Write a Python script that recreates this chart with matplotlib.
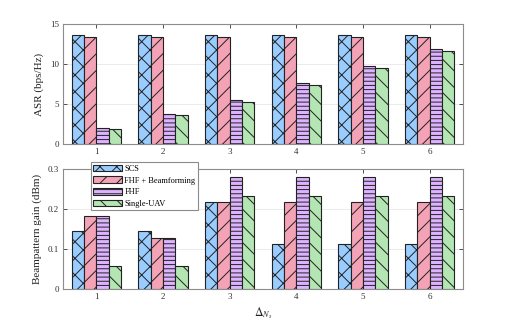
import matplotlib
matplotlib.use("Agg")
import matplotlib.pyplot as plt
import numpy as np

plt.rcParams['font.family'] = ['Liberation Serif', 'DejaVu Serif']
plt.rcParams['mathtext.fontset'] = 'stix'
plt.rcParams['hatch.linewidth'] = 0.7

categories = ['1', '2', '3', '4', '5', '6']
series_names = ['SCS', 'FHF + Beamforming', 'FHF', 'Single-UAV']

asr_scs = [13.65, 13.65, 13.65, 13.65, 13.65, 13.65]
asr_fhf_bf = [13.4, 13.4, 13.4, 13.4, 13.4, 13.4]
asr_fhf = [1.95, 3.8, 5.45, 7.6, 9.8, 11.9]
asr_single = [1.83, 3.6, 5.25, 7.4, 9.45, 11.6]

gain_scs = [0.1445, 0.1445, 0.218, 0.113, 0.113, 0.113]
gain_fhf_bf = [0.183, 0.128, 0.218, 0.218, 0.218, 0.218]
gain_fhf = [0.183, 0.128, 0.28, 0.28, 0.28, 0.28]
gain_single = [0.058, 0.057, 0.233, 0.233, 0.233, 0.233]

colors = ['#99CCFF', '#F4A3B6', '#DDB3FF', '#B3E6B3']
hatches = ['xx', '//', '----', '\\\\']

fig = plt.figure(figsize=(5.32, 3.25), dpi=100)
ax1 = fig.add_axes([0.1184, 0.557, 0.752, 0.369])
ax2 = fig.add_axes([0.1184, 0.111, 0.752, 0.369])

x = np.arange(1, len(categories) + 1)
bw = 0.184
offsets = (np.arange(4) - 1.5) * bw

def style(ax, ylim, yticks, yticklabels, ylabel):
    ax.set_xlim(0.5, 6.5)
    ax.set_ylim(*ylim)
    ax.set_xticks(x)
    ax.set_xticklabels(categories)
    ax.set_yticks(yticks)
    ax.set_yticklabels(yticklabels)
    ax.tick_params(direction='in', length=3, width=0.6, colors='#333333',
                   labelsize=6.5, top=True, right=True, pad=3)
    ax.yaxis.grid(True, color='#e8e8e8', linewidth=0.6)
    ax.set_axisbelow(True)
    for s in ax.spines.values():
        s.set_color('#8c8c8c')
        s.set_linewidth(0.8)
    ax.set_ylabel(ylabel, fontsize=8, color='#222222', labelpad=4)

for i, vals in enumerate([asr_scs, asr_fhf_bf, asr_fhf, asr_single]):
    ax1.bar(x + offsets[i], vals, width=bw, color=colors[i], edgecolor='#222222',
            linewidth=0.8, hatch=hatches[i], zorder=3)
style(ax1, (0, 15), [0, 5, 10, 15], ['0', '5', '10', '15'], 'ASR (bps/Hz)')

bars = []
for i, vals in enumerate([gain_scs, gain_fhf_bf, gain_fhf, gain_single]):
    b = ax2.bar(x + offsets[i], vals, width=bw, color=colors[i], edgecolor='#222222',
                linewidth=0.8, hatch=hatches[i], zorder=3, label=series_names[i])
    bars.append(b)
style(ax2, (0, 0.3), [0, 0.1, 0.2, 0.3], ['0', '0.1', '0.2', '0.3'], 'Beampattern gain (dBm)')
ax2.set_xlabel(r'$\Delta_{N_s}$', fontsize=8.5, color='#222222', labelpad=3)

leg = fig.legend(handles=bars, labels=series_names, loc='upper left',
                 bbox_to_anchor=(0.171, 0.5015), bbox_transform=fig.transFigure,
                 fontsize=6, handlelength=3.4, handleheight=0.9, handletextpad=0.3,
                 labelspacing=0.4, borderpad=0.3, borderaxespad=0,
                 frameon=True, fancybox=False, edgecolor='#8c8c8c', framealpha=1)
leg.get_frame().set_linewidth(0.8)

fig.savefig('out.png', dpi=100)
